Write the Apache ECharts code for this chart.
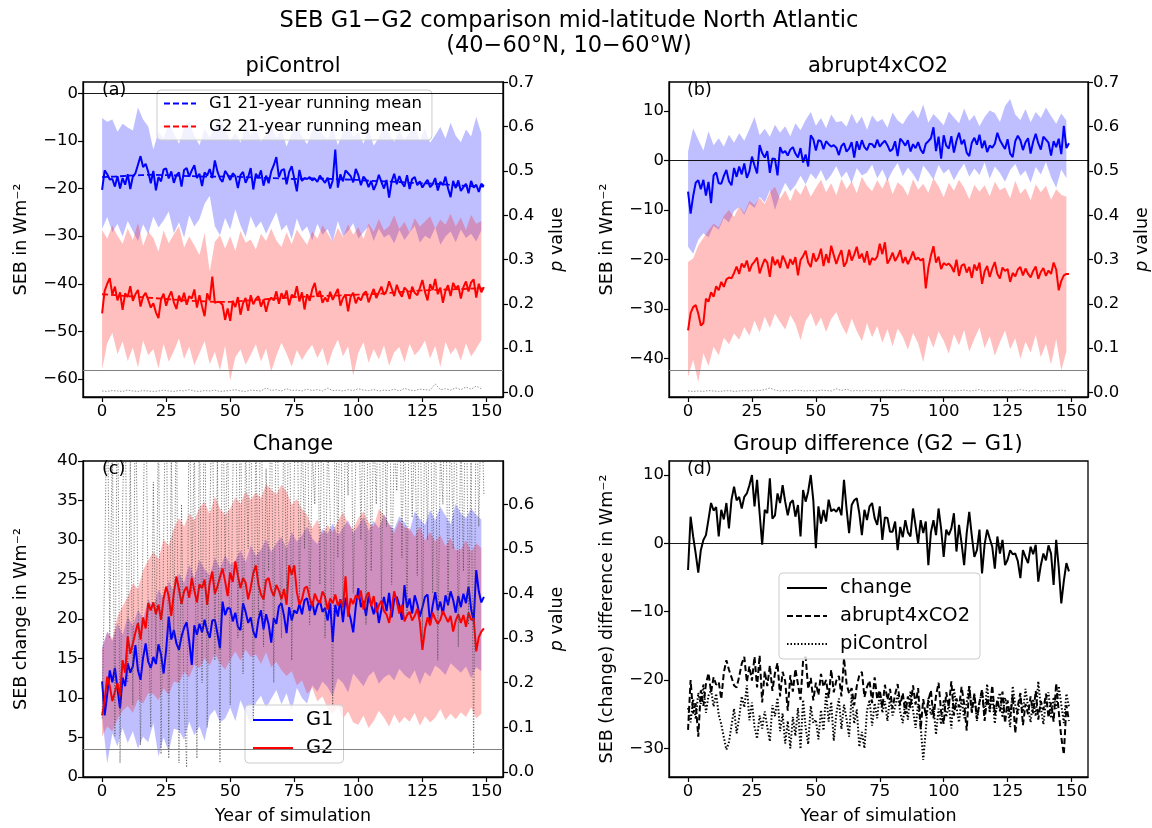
<!DOCTYPE html>
<html>
<head>
<meta charset="utf-8">
<script src="https://cdn.jsdelivr.net/npm/echarts@6/dist/echarts.min.js"></script>
<style>html,body{margin:0;padding:0;background:#fff}#c{width:1152px;height:828px}</style>
</head>
<body>
<div id="c"></div>
<script>
// ---------------- DATA ----------------
const xTicks = [0, 25, 50, 75, 100, 125, 150];
const pTicks = [0, 0.1, 0.2, 0.3, 0.4, 0.5, 0.6, 0.7];
const aTicks = [-60, -50, -40, -30, -20, -10, 0];
const bTicks = [-40, -30, -20, -10, 0, 10];
const cTicks = [0, 5, 10, 15, 20, 25, 30, 35, 40];
const dTicks = [-30, -20, -10, 0, 10];
const rmYears = [0,5,10,15,20,25,30,35,40,45,50,55,60,65,70,75,80,85,90,95,100,105,110,115,120,125,130,135,140,145,149];

// (a) piControl
const a_G1 = [
-20.3,-16.2,-17.0,-18.1,-18.0,-19.6,-17.4,-20.0,-17.8,-19.2,
-17.0,-20.1,-17.5,-16.8,-15.0,-13.2,-15.5,-14.8,-16.5,-18.9,
-16.3,-20.4,-17.6,-18.5,-16.0,-15.8,-17.9,-16.4,-18.8,-17.2,
-16.6,-19.6,-16.1,-15.7,-17.5,-16.2,-15.1,-17.8,-16.9,-19.5,
-16.6,-17.3,-15.9,-17.8,-14.1,-16.4,-17.9,-18.6,-16.3,-17.1,
-18.2,-16.8,-17.4,-19.9,-17.2,-16.5,-18.8,-17.6,-15.7,-20.2,
-16.9,-17.8,-16.2,-19.4,-17.3,-18.9,-16.4,-15.1,-13.4,-17.6,
-16.2,-15.9,-19.1,-16.5,-15.3,-17.9,-20.6,-16.1,-18.4,-17.8,
-18.0,-17.6,-18.3,-17.9,-18.6,-17.3,-18.1,-18.8,-17.7,-20.0,
-18.3,-11.8,-19.8,-17.0,-18.5,-16.2,-16.8,-17.4,-18.7,-15.9,
-17.2,-19.3,-17.5,-18.2,-19.7,-18.4,-20.3,-19.0,-17.1,-18.6,
-20.0,-18.2,-21.9,-18.5,-16.9,-19.1,-17.4,-18.8,-19.6,-17.2,
-20.1,-18.0,-17.6,-19.3,-18.5,-19.8,-18.9,-18.2,-19.7,-19.1,
-17.8,-20.4,-18.6,-19.3,-17.5,-20.0,-21.8,-18.4,-19.9,-18.3,
-20.5,-19.7,-19.0,-21.0,-18.4,-19.8,-19.2,-20.7,-19.0,-19.5];
const a_G2 = [
-46.2,-41.5,-40.0,-38.8,-42.3,-40.6,-43.5,-41.8,-45.5,-42.0,
-42.8,-40.5,-43.6,-42.2,-41.3,-44.8,-42.7,-41.9,-43.4,-45.0,
-44.1,-46.0,-47.2,-43.3,-42.1,-44.6,-42.8,-41.6,-43.9,-45.3,
-42.5,-43.8,-41.9,-44.4,-42.6,-43.1,-41.2,-45.0,-42.4,-44.7,
-46.8,-42.0,-43.5,-38.5,-44.0,-43.8,-43.9,-44.4,-47.6,-45.2,
-47.8,-43.6,-44.9,-42.8,-46.5,-44.1,-43.0,-45.7,-42.4,-44.3,
-43.2,-42.6,-44.8,-43.3,-45.9,-43.7,-42.9,-43.5,-41.6,-44.2,
-42.0,-43.1,-41.4,-44.5,-42.3,-42.8,-40.5,-43.7,-41.8,-45.4,
-42.2,-43.6,-41.2,-39.8,-42.7,-41.5,-44.0,-42.9,-43.8,-41.7,
-43.4,-42.2,-41.1,-44.6,-43.0,-42.3,-45.8,-42.7,-41.9,-44.1,
-42.8,-43.5,-42.1,-41.6,-43.9,-42.4,-41.1,-43.0,-41.8,-40.6,
-42.3,-41.5,-39.5,-41.0,-42.6,-40.2,-41.8,-42.7,-40.8,-41.4,
-43.2,-40.6,-41.9,-42.4,-40.9,-39.2,-41.7,-43.5,-40.1,-41.3,
-39.0,-42.2,-40.8,-44.0,-41.5,-40.3,-42.6,-39.8,-41.0,-40.4,
-43.1,-40.7,-39.5,-41.6,-39.7,-39.1,-42.9,-40.0,-41.8,-40.7];
const a_G1rm = [-17.6,-17.5,-17.3,-17.2,-17.1,-17.2,-17.3,-17.4,-17.5,-17.5,-17.4,-17.6,-17.7,-17.8,-17.9,-18.0,-17.9,-17.9,-18.0,-18.1,-18.2,-18.4,-18.5,-18.6,-18.8,-18.9,-19.0,-19.2,-19.4,-19.5,-19.6];
const a_G2rm = [-42.2,-42.4,-42.6,-42.8,-43.0,-43.2,-43.4,-43.6,-43.7,-43.8,-43.8,-43.6,-43.4,-43.2,-43.0,-42.8,-42.7,-42.6,-42.5,-42.4,-42.3,-42.2,-42.0,-41.8,-41.6,-41.4,-41.3,-41.2,-41.1,-41.0,-41.0];
const a_G1_hi = [-5.2,-6.0,-5.5,-8.1,-6.4,-7.2,-7.8,-3.0,-5.5,-7.0,-11.8,-8.0,-9.5,-6.2,-8.4,-10.6,-7.1,-6.0,-8.9,-10.9,-7.4,-9.3,-6.8,-4.8,-7.6,-9.9,-8.2,-10.4,-6.5,-8.8,-7.3,-10.1,-8.6,-6.9,-9.4,-7.7,-11.2,-8.3,-6.6,-9.0,-10.7,-7.9,-6.4,-8.7,-9.6,-7.2,-10.9,-8.1,-6.3,-9.2,-8.0,-10.6,-7.5,-11.0,-9.3,-6.8,-8.6,-10.2,-7.8,-9.7,-8.3,-6.9,-9.9,-7.4,-10.4,-8.8,-7.1,-9.5,-6.2,-8.9,-10.3,-7.6,-9.1,-5.0,-8.4];
const a_G1_lo = [-28.5,-26.0,-29.2,-27.4,-30.1,-26.8,-28.9,-31.0,-27.5,-29.6,-25.9,-28.2,-26.7,-24.8,-29.4,-27.1,-30.3,-25.6,-28.0,-26.4,-23.2,-21.5,-27.9,-29.8,-26.2,-28.6,-24.4,-27.7,-30.2,-25.8,-28.3,-26.9,-29.5,-27.2,-25.0,-28.8,-27.6,-30.6,-26.3,-29.1,-28.0,-30.9,-27.4,-29.7,-28.5,-31.2,-26.8,-30.0,-28.9,-27.3,-30.5,-29.2,-27.9,-31.0,-28.4,-30.3,-29.6,-31.5,-28.7,-30.8,-29.3,-27.8,-31.4,-29.9,-30.6,-28.2,-31.8,-30.1,-29.0,-31.3,-28.6,-30.4,-29.5,-31.1,-28.8];
const a_G2_hi = [-28.7,-30.5,-27.8,-29.9,-31.6,-28.4,-30.8,-27.2,-32.0,-29.1,-30.4,-33.2,-28.8,-31.5,-29.6,-27.9,-32.4,-30.1,-31.9,-34.0,-29.3,-37.5,-31.2,-29.8,-32.6,-30.0,-33.1,-28.9,-31.4,-30.7,-32.8,-29.5,-31.0,-28.4,-30.9,-32.3,-29.2,-31.7,-28.6,-30.3,-31.8,-29.0,-30.5,-27.7,-29.4,-31.1,-28.3,-30.2,-27.5,-29.7,-28.1,-30.6,-27.3,-29.1,-26.4,-28.8,-27.9,-25.6,-28.5,-27.0,-29.3,-26.2,-28.0,-26.9,-25.8,-28.4,-26.5,-27.6,-25.3,-27.9,-26.1,-28.7,-25.5,-27.4,-26.8];
const a_G2_lo = [-58.0,-52.5,-50.3,-54.8,-52.1,-56.2,-53.4,-57.6,-51.9,-55.0,-53.7,-57.8,-52.6,-56.4,-54.1,-51.5,-55.8,-53.2,-57.1,-54.6,-52.0,-56.9,-54.3,-58.2,-53.0,-60.3,-55.4,-53.8,-57.0,-54.9,-52.7,-56.3,-53.6,-58.5,-55.1,-52.4,-54.7,-57.4,-53.9,-56.0,-54.2,-52.8,-55.6,-53.5,-57.3,-54.0,-51.7,-55.2,-53.1,-59.3,-54.5,-52.3,-56.6,-53.7,-55.9,-52.9,-57.2,-54.4,-53.3,-56.5,-52.6,-55.0,-53.8,-51.9,-55.7,-53.0,-57.5,-52.2,-54.8,-53.4,-56.1,-52.5,-55.3,-53.6,-51.8];
const a_p = [0.003,0.002,0.004,0.003,0.002,0.005,0.003,0.002,0.004,0.003,0.002,0.003,0.005,0.003,0.002,0.004,0.003,0.006,0.003,0.002,0.004,0.003,0.005,0.002,0.003,0.004,0.006,0.003,0.002,0.005,0.004,0.003,0.010,0.004,0.006,0.003,0.008,0.004,0.005,0.003,0.007,0.004,0.006,0.003,0.009,0.004,0.005,0.003,0.006,0.004,0.008,0.005,0.004,0.006,0.003,0.005,0.004,0.007,0.003,0.009,0.005,0.004,0.007,0.006,0.005,0.019,0.006,0.008,0.005,0.010,0.006,0.012,0.007,0.014,0.008];

// (b) abrupt4xCO2
const b_G1 = [
-6.3,-10.7,-7.2,-4.5,-4.0,-5.8,-3.9,-7.1,-4.3,-8.6,
-3.0,-2.4,-4.6,-4.7,-3.1,-1.9,-4.2,-5.0,-1.5,-3.3,
-1.2,-2.8,-0.6,-3.5,-2.2,0.8,-1.0,-2.6,3.1,1.5,
0.6,1.9,-2.5,0.4,0.3,-3.0,2.7,1.5,1.9,1.0,
2.2,2.7,1.4,0.6,2.5,-0.4,1.2,-1.2,5.1,4.3,
2.0,4.1,3.9,2.3,3.9,3.3,2.8,3.1,2.6,1.1,
2.9,3.5,1.8,2.4,3.7,0.6,3.9,2.2,4.1,2.7,
2.1,3.4,3.3,2.6,4.2,2.8,3.5,4.0,3.1,1.9,
2.3,3.9,0.9,4.4,3.8,3.0,4.1,1.8,3.3,2.5,
3.7,2.2,1.4,3.4,3.9,4.5,6.7,1.9,4.8,0.4,
5.1,3.0,2.4,4.9,1.6,4.0,5.6,3.3,4.2,1.6,
0.9,3.6,4.6,3.2,5.2,2.5,4.0,1.7,3.0,2.6,
3.4,5.6,4.1,3.2,2.3,4.3,1.4,0.7,3.9,5.0,
4.1,2.1,3.7,4.5,1.4,3.8,5.4,3.5,2.2,4.8,
4.2,3.6,1.0,3.9,2.7,4.4,1.3,7.0,2.5,3.5];
const b_G2 = [
-34.3,-30.8,-29.6,-29.2,-30.9,-33.3,-32.8,-27.9,-28.5,-26.6,
-27.5,-25.4,-26.2,-24.5,-25.5,-24.0,-23.6,-23.8,-22.7,-21.4,
-22.9,-20.8,-21.6,-20.2,-22.4,-21.0,-20.4,-19.6,-22.8,-21.2,
-19.9,-20.6,-23.5,-19.4,-21.1,-20.0,-21.7,-19.2,-20.3,-21.8,
-19.9,-21.0,-19.5,-23.2,-20.1,-19.3,-18.2,-20.6,-21.5,-18.7,
-20.4,-19.6,-17.8,-21.3,-18.9,-20.7,-17.2,-19.1,-20.9,-19.3,
-18.1,-21.4,-20.5,-18.0,-20.2,-19.0,-17.4,-19.8,-18.8,-20.6,
-18.3,-21.1,-19.7,-20.1,-19.4,-16.8,-18.9,-16.5,-20.8,-19.9,
-18.6,-20.3,-19.4,-18.1,-20.7,-19.5,-20.9,-19.8,-18.4,-20.0,
-19.6,-20.2,-19.8,-25.8,-21.7,-19.2,-17.3,-20.6,-19.4,-21.9,
-20.7,-21.1,-20.8,-21.4,-22.5,-20.0,-23.3,-21.2,-20.9,-22.6,
-21.5,-23.7,-21.0,-22.2,-20.6,-24.9,-22.4,-21.3,-23.5,-21.8,
-20.5,-22.9,-23.8,-21.6,-22.3,-21.9,-24.5,-22.7,-23.4,-22.0,
-21.5,-23.2,-21.8,-22.9,-23.6,-22.3,-21.4,-23.9,-22.5,-21.7,
-23.3,-22.2,-22.9,-20.6,-22.0,-26.2,-24.3,-23.2,-22.9,-22.9];
const b_G1_hi = [1.8,6.5,4.2,2.0,5.9,3.1,4.5,2.8,5.2,3.6,5.5,4.0,6.3,8.8,5.1,6.4,4.8,7.2,5.6,6.9,4.9,7.5,6.1,8.2,9.8,7.0,8.6,6.5,9.3,7.7,8.0,6.8,9.5,7.4,8.9,6.2,9.1,7.8,8.4,6.6,9.7,8.1,7.3,9.0,10.2,8.5,11.3,7.6,9.4,8.3,7.1,9.9,8.7,7.5,10.5,8.0,9.2,6.9,8.8,10.1,9.6,7.8,11.0,12.4,9.3,8.2,10.4,7.7,9.8,8.6,10.7,9.0,7.4,9.5,8.1];
const b_G1_lo = [-17.4,-18.8,-16.0,-14.7,-15.5,-13.2,-14.0,-11.6,-12.5,-10.2,-9.4,-11.0,-8.7,-9.6,-7.3,-8.5,-6.0,-10.0,-6.8,-4.5,-6.2,-5.0,-3.1,-4.8,-2.6,-3.8,-1.9,-4.2,-2.9,-1.1,-3.5,-2.2,-4.6,-1.5,-3.0,-2.4,-0.8,-3.6,-1.8,-4.1,-2.0,-0.5,-3.2,-1.4,-2.7,-4.4,-1.0,-2.3,-3.9,-0.9,-2.6,-1.7,-4.0,-2.1,-0.6,-3.3,-1.6,-2.9,-0.4,-3.7,-1.2,-2.5,-4.3,-1.9,-0.7,-3.1,-2.0,-4.5,-1.3,-2.8,-0.3,-3.4,-5.5,-1.8,-3.6];
const b_G2_hi = [-20.5,-19.8,-17.2,-15.6,-14.1,-12.7,-13.5,-11.2,-10.0,-11.4,-9.3,-10.6,-8.1,-9.0,-7.5,-8.8,-6.4,-5.3,-7.7,-6.0,-8.2,-5.6,-6.9,-4.8,-7.3,-5.5,-3.9,-6.4,-4.6,-7.0,-3.7,-5.8,-4.2,-6.6,-3.3,-5.1,-6.2,-4.0,-5.7,-3.5,-6.8,-4.4,-5.3,-7.1,-3.8,-5.9,-4.7,-6.5,-3.6,-5.2,-7.4,-4.5,-6.1,-3.9,-5.5,-7.8,-4.9,-6.3,-5.0,-7.2,-4.3,-6.0,-5.4,-7.6,-4.1,-6.7,-5.6,-8.0,-4.8,-6.4,-5.1,-7.9,-5.8,-6.9,-7.3];
const b_G2_lo = [-43.7,-40.2,-44.7,-38.9,-41.5,-37.6,-39.3,-35.8,-37.1,-34.9,-36.2,-33.6,-35.4,-32.3,-34.7,-31.5,-33.8,-30.9,-32.6,-34.1,-31.2,-33.0,-36.3,-32.4,-30.8,-33.5,-31.7,-34.6,-32.0,-30.6,-33.2,-35.1,-31.9,-34.4,-36.5,-32.8,-35.7,-33.4,-36.8,-34.0,-37.5,-33.9,-35.6,-38.2,-34.8,-36.9,-40.7,-35.3,-37.8,-34.5,-36.4,-39.0,-35.0,-37.3,-34.2,-38.6,-36.0,-33.7,-37.9,-35.5,-39.4,-36.7,-34.3,-38.1,-35.9,-40.0,-36.6,-38.8,-35.2,-39.7,-37.0,-41.2,-36.1,-42.4,-38.5];
const b_p = [0.003,0.002,0.003,0.002,0.004,0.003,0.002,0.003,0.004,0.002,0.003,0.004,0.003,0.005,0.004,0.006,0.010,0.005,0.003,0.004,0.003,0.005,0.004,0.003,0.004,0.003,0.005,0.004,0.003,0.008,0.004,0.007,0.003,0.004,0.003,0.005,0.003,0.004,0.003,0.005,0.004,0.003,0.006,0.004,0.003,0.005,0.004,0.003,0.004,0.003,0.005,0.004,0.003,0.004,0.005,0.003,0.004,0.006,0.003,0.004,0.003,0.005,0.004,0.003,0.004,0.006,0.004,0.003,0.005,0.003,0.004,0.003,0.004,0.005,0.003];

// (c) Change
const c_G1 = [
12.1,7.8,10.5,13.5,12.0,13.8,11.2,8.7,12.6,11.5,
14.4,13.2,14.0,16.7,13.5,12.3,15.1,16.9,14.6,13.8,
15.2,14.3,16.8,15.5,13.1,16.1,20.3,17.4,18.6,16.9,
16.1,17.8,18.9,19.6,17.2,14.2,19.2,18.0,19.4,18.3,
19.9,18.5,17.6,19.8,19.9,18.2,16.3,22.2,20.5,21.4,
21.3,19.7,20.8,19.0,18.6,22.0,20.9,19.5,20.2,18.4,
17.6,19.9,21.1,18.7,20.6,19.3,17.0,20.1,19.4,21.6,
22.0,20.4,18.2,21.5,19.8,21.1,20.7,21.9,20.6,22.4,
22.6,21.0,22.2,20.5,21.7,22.3,20.9,21.4,19.8,22.0,
17.1,21.8,20.3,22.5,19.6,22.7,21.2,20.0,18.3,21.6,
23.9,21.5,22.3,20.4,22.9,21.8,20.6,22.1,19.5,21.2,
22.8,21.0,23.3,20.2,22.5,22.8,21.7,19.9,24.3,21.4,
22.6,20.7,23.0,21.9,20.3,21.5,22.8,23.1,19.4,21.7,
23.4,21.1,22.2,20.6,23.0,21.8,23.5,22.4,20.8,22.9,
21.5,23.2,22.0,24.1,21.3,19.7,26.2,23.5,22.1,22.8];
const c_G2 = [
7.8,9.7,12.7,11.5,9.6,10.8,11.9,10.2,14.8,13.2,
17.8,15.6,16.9,18.3,19.5,17.4,20.2,18.8,22.0,21.1,
22.1,20.6,21.8,19.9,22.6,24.1,22.9,20.4,23.3,25.4,
23.8,21.9,23.5,24.1,22.7,25.2,23.6,22.1,24.4,23.9,
25.0,21.8,24.6,26.0,23.2,24.1,25.3,26.4,24.8,22.9,
25.9,24.7,27.3,25.5,23.9,25.2,24.6,22.5,24.0,25.8,
26.8,24.4,23.1,22.5,24.9,25.2,23.7,22.9,24.3,23.6,
22.5,23.8,21.8,26.8,25.6,26.8,23.4,21.8,22.5,23.9,
24.1,22.7,21.6,23.2,22.4,22.0,23.5,22.8,21.2,22.6,
22.0,23.1,21.7,22.4,21.5,25.4,20.3,22.6,21.9,23.0,
22.5,23.6,21.2,22.8,23.4,21.6,22.9,20.8,21.7,22.3,
21.0,20.6,19.5,21.4,23.5,22.2,20.7,21.8,19.7,20.5,
20.9,19.8,20.4,21.3,19.6,16.1,18.7,20.2,19.2,20.8,
20.0,19.4,19.9,21.0,20.3,19.6,20.4,18.4,19.8,20.6,
19.5,20.5,19.0,20.8,19.9,20.1,15.9,17.7,18.4,18.8];
const c_G1_hi = [16.5,18.4,17.2,19.5,18.0,20.3,19.1,21.2,20.0,22.5,21.4,23.7,22.6,24.8,23.5,25.8,24.6,26.9,25.2,27.5,26.3,25.5,27.8,26.4,28.1,26.9,27.4,28.7,27.2,29.3,28.0,28.8,30.1,28.5,29.6,30.4,28.9,31.0,29.8,30.6,31.7,30.2,29.5,31.4,30.8,32.1,30.5,31.6,32.5,30.9,31.8,32.9,31.2,32.4,31.5,33.3,32.0,31.4,33.0,32.2,31.1,33.6,32.7,31.9,33.8,32.5,34.2,33.1,32.0,34.6,33.4,32.8,34.0,33.2,32.6];
const c_G1_lo = [7.6,1.7,5.5,3.9,6.2,4.3,5.8,3.6,5.1,4.4,6.8,2.6,5.0,3.2,6.1,5.9,4.7,7.0,5.3,6.4,4.6,7.8,8.5,6.9,7.4,8.8,7.1,9.7,8.2,6.6,9.4,10.3,8.7,9.9,11.0,9.2,10.6,8.4,11.3,10.0,9.3,11.6,10.8,12.1,11.4,10.2,12.5,11.9,10.7,13.1,12.3,11.5,12.8,13.4,11.8,12.6,13.0,12.2,13.7,12.9,12.4,13.5,11.7,13.3,12.7,14.1,13.6,12.9,14.4,13.8,13.2,14.0,12.5,13.9,13.4];
const c_G2_hi = [16.1,18.4,17.5,20.3,21.6,22.8,24.5,23.8,26.2,27.4,28.5,27.6,30.1,29.3,31.5,32.8,31.7,33.4,32.5,34.1,34.8,33.3,35.5,34.0,33.2,34.0,35.4,34.6,36.2,35.1,36.0,35.3,37.1,36.4,35.8,37.0,36.1,34.5,35.2,33.9,33.2,31.5,32.6,30.8,31.9,31.0,32.4,33.5,32.1,31.4,32.8,33.6,32.2,31.7,33.9,33.2,32.0,30.9,32.5,31.6,31.5,30.4,31.8,29.9,31.0,29.8,30.6,29.2,30.3,28.7,28.8,30.0,28.5,29.6,29.0];
const c_G2_lo = [5.1,6.4,5.8,7.3,8.4,9.0,8.1,9.8,9.3,10.6,10.5,9.7,11.2,10.4,12.1,11.9,13.3,12.6,14.2,13.8,15.0,14.1,15.6,14.4,13.6,14.8,15.9,14.7,16.1,15.2,15.5,14.3,15.8,13.9,14.6,13.5,12.8,13.4,11.6,12.2,10.5,11.3,9.6,10.2,8.7,8.0,8.9,7.4,8.3,6.9,6.6,7.8,6.2,7.1,8.4,7.5,6.4,7.9,6.8,7.6,7.0,8.1,6.5,7.7,6.9,7.5,8.6,7.2,8.0,7.3,8.2,7.6,8.8,7.4,8.0];
const c_p = [
0.12,0.45,0.90,0.30,0.75,0.08,0.95,0.02,0.60,0.85,
0.20,0.70,0.15,0.88,0.40,0.06,0.55,0.92,0.35,0.10,
0.65,0.25,0.80,0.04,0.50,0.98,0.03,0.72,0.30,0.85,
0.02,0.60,0.15,0.01,0.90,0.40,0.75,0.03,0.82,0.20,
0.95,0.10,0.55,0.88,0.25,0.70,0.02,0.93,0.45,0.80,
0.15,0.65,0.99,0.30,0.85,0.22,0.74,0.50,0.90,0.12,
0.78,0.35,0.96,0.28,0.68,0.45,0.88,0.20,0.92,0.55,
0.30,0.84,0.40,0.97,0.25,0.66,0.91,0.38,0.80,0.50,
0.95,0.33,0.72,0.60,0.89,0.42,0.99,0.30,0.76,0.58,
0.15,0.88,0.48,0.94,0.36,0.81,0.62,0.97,0.40,0.70,
0.92,0.52,0.85,0.33,0.96,0.45,0.78,0.60,0.90,0.38,
0.86,0.55,0.99,0.42,0.74,0.63,0.93,0.48,0.82,0.35,
0.91,0.57,0.77,0.44,0.98,0.30,0.84,0.52,0.95,0.40,
0.88,0.25,0.72,0.60,0.96,0.37,0.83,0.50,0.92,0.28,
0.79,0.45,0.97,0.33,0.70,0.04,0.90,0.55,0.85,0.62];

// (d) Group difference (G2 - G1)
const d_change = [
-3.9,3.9,1.0,-1.5,-4.3,-1.0,0.5,1.2,3.5,5.9,
4.8,5.3,1.0,4.9,3.5,5.9,2.2,6.4,8.3,6.3,
6.8,5.1,6.8,7.3,8.5,10.0,5.4,9.3,4.4,-0.2,
4.9,4.4,9.5,3.6,4.1,7.3,5.9,8.5,6.1,4.1,
5.9,6.3,3.9,5.6,1.0,7.8,6.1,7.6,10.0,6.3,
-0.7,5.4,2.9,4.9,3.2,6.4,4.7,5.0,4.6,5.3,
4.1,9.3,5.1,1.5,5.6,6.3,6.6,4.4,1.2,4.9,
3.4,5.4,5.9,3.7,2.7,5.4,0.5,3.8,3.7,1.7,
1.7,3.2,-1.0,2.4,0.9,3.4,1.6,1.0,5.1,2.6,
0.0,3.4,1.5,3.2,-3.2,1.6,3.4,1.2,5.1,2.1,
-2.0,2.0,1.2,2.2,4.4,-1.2,2.7,0.0,-3.2,1.5,
4.6,1.1,-2.0,-1.0,2.0,-4.4,-0.2,2.0,0.7,-0.5,
-3.7,1.0,-1.5,0.5,-3.2,-2.4,-1.0,-1.6,-1.5,-2.6,
-5.1,-1.0,-2.0,-2.9,-0.5,-1.6,-0.2,-5.6,-3.2,-1.5,
-2.5,-0.3,-1.5,-6.1,0.5,-3.5,-8.8,-5.5,-2.9,-4.1];
const d_abrupt = [
-27.3,-20.0,-24.9,-23.4,-28.3,-21.5,-23.8,-20.6,-19.0,-21.8,
-19.6,-20.7,-20.3,-22.8,-18.9,-17.1,-18.5,-19.6,-20.8,-21.1,
-19.5,-17.6,-16.6,-20.3,-18.0,-20.1,-16.6,-21.1,-16.4,-23.3,
-18.7,-20.9,-17.9,-21.6,-19.0,-17.5,-22.4,-18.8,-20.2,-24.5,
-19.3,-21.7,-18.4,-20.6,-22.9,-17.2,-16.6,-21.3,-19.7,-23.0,
-20.4,-22.2,-19.1,-21.0,-20.0,-22.6,-18.5,-21.8,-20.1,-19.4,
-22.4,-16.8,-20.5,-22.0,-21.2,-23.7,-20.9,-19.3,-18.8,-22.5,
-21.0,-20.1,-23.4,-19.6,-22.8,-21.5,-24.0,-20.7,-22.9,-21.3,
-24.2,-22.1,-20.6,-23.7,-21.9,-25.0,-22.4,-24.1,-20.8,-23.6,
-21.2,-27.2,-22.8,-25.3,-23.0,-21.5,-25.6,-22.3,-20.4,-24.7,
-26.4,-21.8,-23.9,-20.2,-25.2,-22.7,-24.0,-21.0,-23.5,-27.4,
-20.9,-24.8,-22.0,-25.7,-23.2,-21.4,-26.0,-22.6,-24.3,-20.8,
-25.1,-22.9,-24.6,-21.7,-26.3,-23.0,-25.4,-22.2,-27.8,-23.8,
-21.9,-26.6,-23.5,-25.0,-22.4,-24.9,-21.6,-25.8,-23.1,-24.4,
-22.0,-25.5,-23.3,-26.1,-20.5,-24.6,-28.4,-30.9,-23.7,-26.0];
const d_pi = [
-24.1,-26.2,-22.8,-25.7,-21.9,-23.5,-20.6,-24.8,-22.3,-21.4,
-23.9,-22.0,-25.1,-26.5,-28.4,-30.2,-29.1,-26.7,-24.2,-27.8,
-25.5,-22.4,-24.0,-20.8,-25.9,-23.3,-26.8,-28.6,-25.2,-27.1,
-24.6,-26.9,-29.0,-23.7,-25.3,-22.6,-27.5,-24.9,-29.3,-26.0,
-30.0,-25.4,-28.2,-24.1,-30.1,-22.9,-27.0,-29.4,-23.8,-26.3,
-25.8,-28.7,-24.4,-27.4,-21.8,-26.1,-23.2,-28.9,-25.0,-22.7,
-27.2,-23.6,-25.7,-28.3,-22.1,-26.4,-24.3,-29.8,-27.6,-30.0,
-24.5,-22.9,-26.7,-23.4,-25.6,-21.7,-24.8,-23.1,-26.0,-22.5,
-25.2,-23.9,-22.2,-24.7,-26.3,-23.0,-25.8,-21.6,-24.4,-27.0,
-23.5,-26.8,-31.7,-27.3,-22.6,-25.1,-23.8,-28.0,-24.2,-26.5,
-22.9,-25.4,-23.6,-27.1,-21.2,-24.0,-26.2,-22.7,-25.6,-23.3,
-20.8,-24.5,-22.1,-26.0,-23.4,-21.5,-25.2,-20.6,-24.8,-22.3,
-26.4,-23.0,-21.9,-25.5,-22.6,-24.1,-26.9,-20.9,-23.7,-25.0,
-22.4,-24.7,-21.3,-23.9,-26.2,-22.8,-25.3,-20.2,-24.0,-26.5,
-23.1,-21.8,-25.6,-22.5,-24.2,-20.9,-23.6,-26.3,-22.0,-23.9];

// ---------------- CHART ----------------
const years = a_G1.map((_, i) => i);        // annual positions 0..149
const bandYears = a_G1_hi.map((_, i) => i * 2); // biennial positions 0..148

const FONT = 'DejaVu Sans';
const TICK = 16.5;
const fmtNum = v => String(v).replace('-', '\u2212');
const fmtP = v => v.toFixed(1);

function pairs(xs, ys) { return ys.map((v, i) => [xs[i], v]); }

function band(xs, lo, hi, color, xi, yi) {
  return {
    type: 'custom', xAxisIndex: xi, yAxisIndex: yi, silent: true, clip: true, z: 1,
    data: xs.map((x, i) => [x, lo[i], hi[i]]),
    encode: { x: 0, y: [1, 2] },
    renderItem: function (params, api) {
      if (params.dataIndex !== 0) return null;
      const pts = [];
      for (let i = 0; i < xs.length; i++) pts.push(api.coord([xs[i], hi[i]]));
      for (let i = xs.length - 1; i >= 0; i--) pts.push(api.coord([xs[i], lo[i]]));
      return { type: 'polygon', shape: { points: pts }, style: { fill: color } };
    }
  };
}
function line(name, xs, ys, color, width, type, xi, yi, extra) {
  return Object.assign({
    name, type: 'line', xAxisIndex: xi, yAxisIndex: yi, data: pairs(xs, ys),
    symbol: 'none', showSymbol: false, clip: true, z: 3, animation: false,
    lineStyle: { color, width, type }, itemStyle: { color }
  }, extra || {});
}
function hline(value, color, width) {
  return { silent: true, symbol: ['none', 'none'], label: { show: false }, animation: false,
           lineStyle: { color, width, type: 'solid' }, emphasis: { disabled: true }, data: [{ yAxis: value }] };
}

function xAx(gi, showName) {
  return {
    type: 'value', gridIndex: gi, min: -7.45, max: 156.45,
    name: showName ? 'Year of simulation' : '', nameLocation: 'middle', nameGap: 30,
    nameTextStyle: { fontSize: 17.5, color: '#000', fontFamily: FONT },
    axisLine: { show: true, onZero: false, lineStyle: { color: '#000', width: 1.3 } },
    axisTick: { show: true, length: 5, lineStyle: { color: '#000', width: 1.2 }, customValues: xTicks },
    axisLabel: { color: '#000', fontSize: TICK, fontFamily: FONT, margin: 6, customValues: xTicks },
    splitLine: { show: false }
  };
}
function yAx(gi, min, max, ticks, fmt, name, pos, gap, rich) {
  return {
    type: 'value', gridIndex: gi, min, max, position: pos,
    name, nameLocation: 'middle', nameGap: gap, nameRotate: 90,
    nameTextStyle: { fontSize: 17.5, color: '#000', fontFamily: FONT, rich: rich || {} },
    axisLine: { show: true, onZero: false, lineStyle: { color: '#000', width: 1.3 } },
    axisTick: { show: true, length: 5, lineStyle: { color: '#000', width: 1.2 }, customValues: ticks },
    axisLabel: { color: '#000', fontSize: TICK, fontFamily: FONT, margin: 5, formatter: fmt, customValues: ticks },
    splitLine: { show: false }
  };
}
const pRich = { i: { fontStyle: 'italic', fontSize: 17.5, fontFamily: FONT, color: '#000' } };

const BLUE_BAND = 'rgba(0,0,255,0.25)', RED_BAND = 'rgba(255,0,0,0.25)';

const gridBase = { show: true, borderColor: '#000', borderWidth: 1.3, backgroundColor: 'transparent' };
const legendBase = {
  orient: 'vertical', selectedMode: false,
  backgroundColor: 'rgba(255,255,255,0.8)', borderColor: '#ccc', borderWidth: 1, borderRadius: 4,
  itemStyle: { opacity: 0, color: 'transparent', borderWidth: 0 },
  lineStyle: { inactiveWidth: 2 }
};

const option = {
  animation: false,
  textStyle: { fontFamily: FONT },
  grid: [
    Object.assign({ left: 83, top: 82, width: 420, height: 315 }, gridBase),
    Object.assign({ left: 669, top: 82, width: 419, height: 315 }, gridBase),
    Object.assign({ left: 83, top: 461, width: 420, height: 316 }, gridBase),
    Object.assign({ left: 669, top: 461, width: 419, height: 316 }, gridBase)
  ],
  xAxis: [xAx(0, false), xAx(1, false), xAx(2, true), xAx(3, true)],
  yAxis: [
    yAx(0, -63.78, 2.37, aTicks, fmtNum, 'SEB in Wm\u207B\u00B2', 'left', 53),
    yAx(0, -0.0106, 0.701, pTicks, fmtP, '{i|p} value', 'right', 45, pRich),
    yAx(1, -47.74, 15.85, bTicks, fmtNum, 'SEB in Wm\u207B\u00B2', 'left', 53),
    yAx(1, -0.0106, 0.701, pTicks, fmtP, '{i|p} value', 'right', 45, pRich),
    yAx(2, 0, 40, cTicks, fmtNum, 'SEB change in Wm\u207B\u00B2', 'left', 53),
    yAx(2, -0.0115, 0.697, pTicks, fmtP, '{i|p} value', 'right', 45, pRich),
    yAx(3, -34.2, 12.05, dTicks, fmtNum, 'SEB (change) difference in Wm\u207B\u00B2', 'left', 53)
  ],
  legend: [
    Object.assign({}, legendBase, { data: ['G1 21-year running mean', 'G2 21-year running mean'], left: 157, top: 90,
      itemWidth: 32, itemHeight: 12, itemGap: 6, padding: [5, 10, 5, 6],
      textStyle: { fontSize: 16.5, color: '#000', fontFamily: FONT, padding: [0, 0, 0, 8] } }),
    Object.assign({}, legendBase, { data: ['G1', 'G2'], left: 245, top: 705,
      itemWidth: 40, itemHeight: 14, itemGap: 8, padding: [5, 10, 5, 7],
      textStyle: { fontSize: 19.5, color: '#000', fontFamily: FONT, padding: [0, 0, 0, 8] } }),
    Object.assign({}, legendBase, { data: ['change', 'abrupt4xCO2', 'piControl'], left: 779, top: 573,
      itemWidth: 40, itemHeight: 14, itemGap: 8, padding: [5, 10, 5, 7],
      textStyle: { fontSize: 19.5, color: '#000', fontFamily: FONT, padding: [0, 0, 0, 8] } })
  ],
  graphic: [
    { type: 'text', x: 569, y: 21, style: { text: 'SEB G1\u2212G2 comparison mid-latitude North Atlantic', fontSize: 22.5, fontFamily: FONT, fill: '#000', align: 'center', verticalAlign: 'middle' } },
    { type: 'text', x: 569, y: 46, style: { text: '(40\u221260\u00B0N, 10\u221260\u00B0W)', fontSize: 22.5, fontFamily: FONT, fill: '#000', align: 'center', verticalAlign: 'middle' } },
    { type: 'text', x: 293, y: 67, style: { text: 'piControl', fontSize: 21, fontFamily: FONT, fill: '#000', align: 'center', verticalAlign: 'middle' } },
    { type: 'text', x: 878, y: 67, style: { text: 'abrupt4xCO2', fontSize: 21, fontFamily: FONT, fill: '#000', align: 'center', verticalAlign: 'middle' } },
    { type: 'text', x: 293, y: 445, style: { text: 'Change', fontSize: 21, fontFamily: FONT, fill: '#000', align: 'center', verticalAlign: 'middle' } },
    { type: 'text', x: 878, y: 445, style: { text: 'Group difference (G2 \u2212 G1)', fontSize: 21, fontFamily: FONT, fill: '#000', align: 'center', verticalAlign: 'middle' } },
    { type: 'text', x: 102, y: 90, z: 100, style: { text: '(a)', fontSize: 17.5, fontFamily: FONT, fill: '#000', align: 'left', verticalAlign: 'middle' } },
    { type: 'text', x: 687, y: 90, z: 100, style: { text: '(b)', fontSize: 17.5, fontFamily: FONT, fill: '#000', align: 'left', verticalAlign: 'middle' } },
    { type: 'text', x: 102, y: 469, z: 100, style: { text: '(c)', fontSize: 17.5, fontFamily: FONT, fill: '#000', align: 'left', verticalAlign: 'middle' } },
    { type: 'text', x: 687, y: 469, z: 100, style: { text: '(d)', fontSize: 17.5, fontFamily: FONT, fill: '#000', align: 'left', verticalAlign: 'middle' } }
  ],
  series: [
    // (a)
    band(bandYears, a_G1_lo, a_G1_hi, BLUE_BAND, 0, 0),
    band(bandYears, a_G2_lo, a_G2_hi, RED_BAND, 0, 0),
    line('aG1', years, a_G1, '#0000ff', 2, 'solid', 0, 0, { markLine: hline(0, '#000', 0.9) }),
    line('aG2', years, a_G2, '#ff0000', 2, 'solid', 0, 0),
    line('G1 21-year running mean', rmYears, a_G1rm, '#0000ff', 1.8, [6, 3], 0, 0),
    line('G2 21-year running mean', rmYears, a_G2rm, '#ff0000', 1.8, [6, 3], 0, 0),
    line('ap', bandYears, a_p, '#8a8a8a', 0.9, [1.5, 1.5], 0, 1, { markLine: hline(0.05, '#808080', 1) }),
    // (b)
    band(bandYears, b_G1_lo, b_G1_hi, BLUE_BAND, 1, 2),
    band(bandYears, b_G2_lo, b_G2_hi, RED_BAND, 1, 2),
    line('bG1', years, b_G1, '#0000ff', 2, 'solid', 1, 2, { markLine: hline(0, '#000', 0.9) }),
    line('bG2', years, b_G2, '#ff0000', 2, 'solid', 1, 2),
    line('bp', bandYears, b_p, '#8a8a8a', 0.9, [1.5, 1.5], 1, 3, { markLine: hline(0.05, '#808080', 1) }),
    // (c)
    band(bandYears, c_G1_lo, c_G1_hi, BLUE_BAND, 2, 4),
    band(bandYears, c_G2_lo, c_G2_hi, RED_BAND, 2, 4),
    line('G1', years, c_G1, '#0000ff', 2, 'solid', 2, 4),
    line('G2', years, c_G2, '#ff0000', 2, 'solid', 2, 4),
    line('cp', years, c_p, '#444', 0.7, [1.2, 1.6], 2, 5, { z: 4, markLine: hline(0.05, '#808080', 1) }),
    // (d)
    line('change', years, d_change, '#000', 2, 'solid', 3, 6, { markLine: hline(0, '#000', 0.9) }),
    line('abrupt4xCO2', years, d_abrupt, '#000', 2, [6, 3], 3, 6),
    line('piControl', years, d_pi, '#000', 2, [1.5, 2], 3, 6)
  ]
};

const chart = echarts.init(document.getElementById('c'), null, { renderer: 'canvas' });
chart.setOption(option);
</script>
</body>
</html>
